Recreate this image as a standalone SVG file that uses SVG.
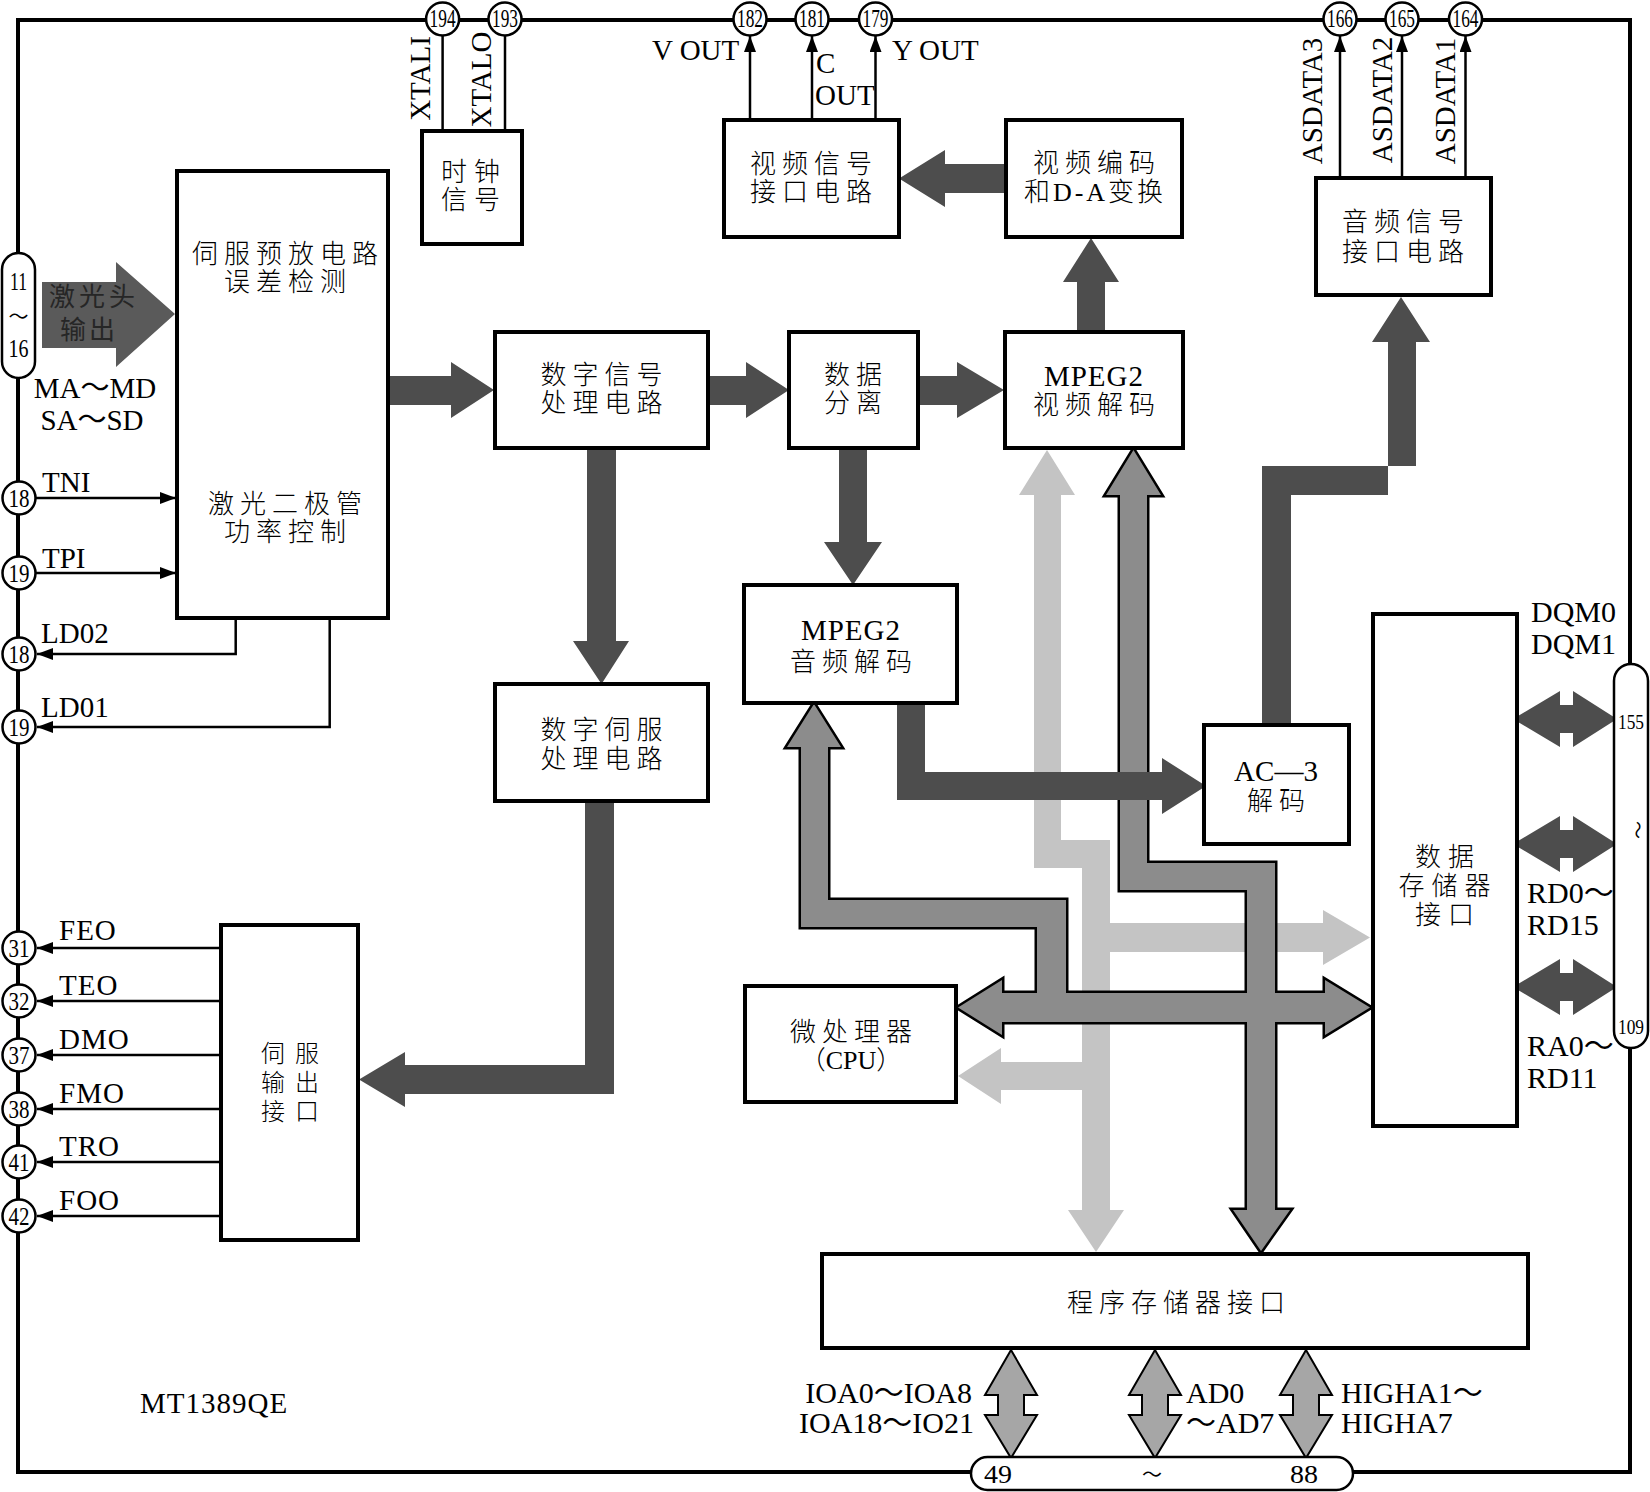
<svg xmlns="http://www.w3.org/2000/svg" xmlns:xlink="http://www.w3.org/1999/xlink" width="1650" height="1492" viewBox="0 0 1650 1492">
<style>
.t{font-family:"Liberation Serif","Noto Sans CJK SC",serif;fill:#000}
.cn{font-size:26px;letter-spacing:6px;text-anchor:middle;font-weight:300}
.lbl{font-size:29px}
.lb{font-size:30px}
.box{fill:#fff;stroke:#000;stroke-width:4}
.wire{fill:none;stroke:#000;stroke-width:2.5}
.dark{fill:#4d4d4d}
.light{fill:#c4c4c4}
.bo{fill:#8c8c8c;stroke:#000;stroke-width:5;stroke-linejoin:miter}
.bf{fill:#8c8c8c;stroke:none}
.pa{fill:#a6a6a6;stroke:#000;stroke-width:2}
.pin{fill:#fff;stroke:#000;stroke-width:2.5}
.pn{font-size:25px;text-anchor:middle}
</style>
<defs>
<marker id="ah" markerUnits="userSpaceOnUse" markerWidth="16" markerHeight="12" refX="16" refY="6" orient="auto"><path d="M0,0 L16,6 L0,12 z" fill="#000"/></marker>
<polygon id="busA" points="814,704 841,747 828,747 828,900 1066,900 1066,1000 1037,1000 1037,927 801,927 801,747 787,747"/>
<polygon id="busB" points="958,1007.5 1002,980 1002,993 1325,993 1325,980 1370,1007.5 1325,1035 1325,1022 1002,1022 1002,1035"/>
<polygon id="busC" points="1133.5,450 1161,495 1147,495 1147,863 1275,863 1275,1210 1290,1210 1261,1251 1233,1210 1247,1210 1247,890 1120,890 1120,495 1106,495"/>
</defs>
<rect width="1650" height="1492" fill="#fff"/>
<rect id="chip-border" x="18" y="20" width="1612" height="1452" fill="none" stroke="#000" stroke-width="4"/>

<g id="connectors">
  <!-- light gray bus -->
  <polygon class="light" points="1047,450 1075,495 1061,495 1061,840 1110,840 1110,1210 1124,1210 1096,1252 1068,1210 1082,1210 1082,868 1034,868 1034,495 1019,495"/>
  <polygon class="light" points="1110,923 1323,923 1323,910 1370,937.5 1323,965 1323,952 1110,952"/>
  <polygon class="light" points="1082,1062 1001,1062 1001,1048 958,1076 1001,1104 1001,1090 1082,1090"/>
  <!-- medium gray bus with outline -->
  <use xlink:href="#busA" class="bo"/>
  <use xlink:href="#busB" class="bo"/>
  <use xlink:href="#busC" class="bo"/>
  <use xlink:href="#busA" class="bf"/>
  <use xlink:href="#busB" class="bf"/>
  <use xlink:href="#busC" class="bf"/>
  <!-- dark arrows -->
  <polygon fill="#5a5a5a" points="42,282 116,282 116,262 175,314 116,367 116,348 42,348"/>
  <polygon class="dark" points="388,376 451,376 451,362 494,390 451,418 451,405 388,405"/>
  <polygon class="dark" points="708,376 746,376 746,362 789,390 746,418 746,405 708,405"/>
  <polygon class="dark" points="918,376 957,376 957,362 1004,390 957,418 957,405 918,405"/>
  <polygon class="dark" points="839,448 867,448 867,542 882,542 853,585 824,542 839,542"/>
  <polygon class="dark" points="587,448 616,448 616,641 629,641 601.5,684 573,641 587,641"/>
  <polygon class="dark" points="585,801 614,801 614,1094 405,1094 405,1107 359,1079.5 405,1052 405,1065 585,1065"/>
  <polygon class="dark" points="1006,164 945,164 945,150 899,178.5 945,207 945,193 1006,193"/>
  <polygon class="dark" points="1077,332 1105,332 1105,282 1119,282 1091,238 1063,282 1077,282"/>
  <polygon class="dark" points="1262,725 1262,466 1416,466 1416,342 1430,342 1401,297 1372,342 1388,342 1388,495 1291,495 1291,725"/>
  <polygon class="dark" points="897,703 925,703 925,772 1162,772 1162,758 1206,786 1162,814 1162,800 897,800"/>
  <polygon class="dark" points="1513,719 1560,691 1560,705 1573,705 1573,691 1617,719 1573,747 1573,733 1560,733 1560,747"/>
  <polygon class="dark" points="1513,844 1560,816 1560,830 1573,830 1573,816 1617,844 1573,872 1573,858 1560,858 1560,872"/>
  <polygon class="dark" points="1513,987 1560,959 1560,973 1573,973 1573,959 1617,987 1573,1015 1573,1001 1560,1001 1560,1015"/>
  <!-- program memory double arrows -->
  <polygon class="pa" points="1011,1350 1037,1395 1024,1395 1024,1415 1037,1415 1011,1458 985,1415 998,1415 998,1395 985,1395"/>
  <polygon class="pa" points="1155,1350 1181,1395 1168,1395 1168,1415 1181,1415 1155,1458 1129,1415 1142,1415 1142,1395 1129,1395"/>
  <polygon class="pa" points="1306,1350 1332,1395 1319,1395 1319,1415 1332,1415 1306,1458 1280,1415 1293,1415 1293,1395 1280,1395"/>
  <!-- thin signal wires -->
  <line class="wire" x1="442.6" y1="36" x2="442.6" y2="131"/>
  <line class="wire" x1="505" y1="36" x2="505" y2="131"/>
  <line class="wire" x1="750" y1="120" x2="750" y2="36" marker-end="url(#ah)"/>
  <line class="wire" x1="812" y1="120" x2="812" y2="36" marker-end="url(#ah)"/>
  <line class="wire" x1="875.5" y1="120" x2="875.5" y2="36" marker-end="url(#ah)"/>
  <line class="wire" x1="1340" y1="178" x2="1340" y2="36" marker-end="url(#ah)"/>
  <line class="wire" x1="1402" y1="178" x2="1402" y2="36" marker-end="url(#ah)"/>
  <line class="wire" x1="1465.5" y1="178" x2="1465.5" y2="36" marker-end="url(#ah)"/>
  <line class="wire" x1="36" y1="498" x2="176" y2="498" marker-end="url(#ah)"/>
  <line class="wire" x1="36" y1="573" x2="176" y2="573" marker-end="url(#ah)"/>
  <polyline class="wire" points="235.7,620 235.7,654 37,654" marker-end="url(#ah)"/>
  <polyline class="wire" points="329.7,620 329.7,727 37,727" marker-end="url(#ah)"/>
  <line class="wire" x1="221" y1="948" x2="37" y2="948" marker-end="url(#ah)"/>
  <line class="wire" x1="221" y1="1001" x2="37" y2="1001" marker-end="url(#ah)"/>
  <line class="wire" x1="221" y1="1055" x2="37" y2="1055" marker-end="url(#ah)"/>
  <line class="wire" x1="221" y1="1109" x2="37" y2="1109" marker-end="url(#ah)"/>
  <line class="wire" x1="221" y1="1162" x2="37" y2="1162" marker-end="url(#ah)"/>
  <line class="wire" x1="221" y1="1216" x2="37" y2="1216" marker-end="url(#ah)"/>
</g>

<g id="labels" class="t">
  <text class="lbl" transform="translate(430,78.5) rotate(-90)" text-anchor="middle">XTALI</text>
  <text class="lbl" transform="translate(491,79.5) rotate(-90)" text-anchor="middle">XTALO</text>
  <text class="lbl" x="652" y="60">V OUT</text>
  <text class="lbl" x="816" y="73">C</text>
  <text class="lbl" x="815" y="105">OUT</text>
  <text class="lbl" x="892" y="60">Y OUT</text>
  <text class="lbl" transform="translate(1322,101) rotate(-90)" text-anchor="middle">ASDATA3</text>
  <text class="lbl" transform="translate(1392,100) rotate(-90)" text-anchor="middle">ASDATA2</text>
  <text class="lbl" transform="translate(1455,101) rotate(-90)" text-anchor="middle">ASDATA1</text>
  <text class="lbl" x="95" y="398" text-anchor="middle">MA～MD</text>
  <text class="lbl" x="92" y="430" text-anchor="middle">SA～SD</text>
  <text class="lbl" x="42" y="492">TNI</text>
  <text class="lbl" x="42" y="568">TPI</text>
  <text class="lbl" x="41" y="643">LD02</text>
  <text class="lbl" x="41" y="717">LD01</text>
  <text class="lbl" x="59" y="940" letter-spacing="1">FEO</text>
  <text class="lbl" x="59" y="995" letter-spacing="1">TEO</text>
  <text class="lbl" x="59" y="1049" letter-spacing="1">DMO</text>
  <text class="lbl" x="59" y="1103" letter-spacing="1">FMO</text>
  <text class="lbl" x="59" y="1156" letter-spacing="1">TRO</text>
  <text class="lbl" x="59" y="1210" letter-spacing="1">FOO</text>
  <text class="lbl" x="140" y="1413" letter-spacing="1">MT1389QE</text>
  <text class="lb" x="1531" y="622">DQM0</text>
  <text class="lb" x="1531" y="654">DQM1</text>
  <text class="lb" x="1527" y="903">RD0～</text>
  <text class="lb" x="1527" y="935">RD15</text>
  <text class="lb" x="1527" y="1056">RA0～</text>
  <text class="lb" x="1527" y="1088">RD11</text>
  <text class="lb" x="972" y="1403" text-anchor="end">IOA0～IOA8</text>
  <text class="lb" x="974" y="1433" text-anchor="end">IOA18～IO21</text>
  <text class="lb" x="1186" y="1403">AD0</text>
  <text class="lb" x="1186" y="1433">～AD7</text>
  <text class="lb" x="1341" y="1403">HIGHA1～</text>
  <text class="lb" x="1341" y="1433">HIGHA7</text>
</g>

<g id="pins" class="t">
  <g id="pin-194"><circle class="pin" cx="442.6" cy="19" r="16.5"/><text class="pn" x="442.6" y="27" textLength="26" lengthAdjust="spacingAndGlyphs">194</text></g>
  <g id="pin-193"><circle class="pin" cx="505" cy="19" r="16.5"/><text class="pn" x="505" y="27" textLength="26" lengthAdjust="spacingAndGlyphs">193</text></g>
  <g id="pin-182"><circle class="pin" cx="750" cy="19" r="16.5"/><text class="pn" x="750" y="27" textLength="26" lengthAdjust="spacingAndGlyphs">182</text></g>
  <g id="pin-181"><circle class="pin" cx="812" cy="19" r="16.5"/><text class="pn" x="812" y="27" textLength="26" lengthAdjust="spacingAndGlyphs">181</text></g>
  <g id="pin-179"><circle class="pin" cx="875.5" cy="19" r="16.5"/><text class="pn" x="875.5" y="27" textLength="26" lengthAdjust="spacingAndGlyphs">179</text></g>
  <g id="pin-166"><circle class="pin" cx="1340" cy="19" r="16.5"/><text class="pn" x="1340" y="27" textLength="26" lengthAdjust="spacingAndGlyphs">166</text></g>
  <g id="pin-165"><circle class="pin" cx="1402" cy="19" r="16.5"/><text class="pn" x="1402" y="27" textLength="26" lengthAdjust="spacingAndGlyphs">165</text></g>
  <g id="pin-164"><circle class="pin" cx="1465.5" cy="19" r="16.5"/><text class="pn" x="1465.5" y="27" textLength="26" lengthAdjust="spacingAndGlyphs">164</text></g>
  <g id="pin-11-16"><rect class="pin" x="2" y="253" width="33" height="125" rx="16.5"/>
    <text class="pn" x="18.5" y="290" textLength="17" lengthAdjust="spacingAndGlyphs">11</text>
    <text class="pn" x="18.5" y="324" style="font-size:20px">～</text>
    <text class="pn" x="18.5" y="357" textLength="20" lengthAdjust="spacingAndGlyphs">16</text></g>
  <g id="pin-18a"><circle class="pin" cx="19" cy="498" r="16.5"/><text class="pn" x="19" y="507" textLength="21" lengthAdjust="spacingAndGlyphs">18</text></g>
  <g id="pin-19a"><circle class="pin" cx="19" cy="573" r="16.5"/><text class="pn" x="19" y="582" textLength="21" lengthAdjust="spacingAndGlyphs">19</text></g>
  <g id="pin-18b"><circle class="pin" cx="19" cy="654" r="16.5"/><text class="pn" x="19" y="663" textLength="21" lengthAdjust="spacingAndGlyphs">18</text></g>
  <g id="pin-19b"><circle class="pin" cx="19" cy="727" r="16.5"/><text class="pn" x="19" y="736" textLength="21" lengthAdjust="spacingAndGlyphs">19</text></g>
  <g id="pin-31"><circle class="pin" cx="19" cy="948" r="16.5"/><text class="pn" x="19" y="957" textLength="21" lengthAdjust="spacingAndGlyphs">31</text></g>
  <g id="pin-32"><circle class="pin" cx="19" cy="1001" r="16.5"/><text class="pn" x="19" y="1010" textLength="21" lengthAdjust="spacingAndGlyphs">32</text></g>
  <g id="pin-37"><circle class="pin" cx="19" cy="1055" r="16.5"/><text class="pn" x="19" y="1064" textLength="21" lengthAdjust="spacingAndGlyphs">37</text></g>
  <g id="pin-38"><circle class="pin" cx="19" cy="1109" r="16.5"/><text class="pn" x="19" y="1118" textLength="21" lengthAdjust="spacingAndGlyphs">38</text></g>
  <g id="pin-41"><circle class="pin" cx="19" cy="1162" r="16.5"/><text class="pn" x="19" y="1171" textLength="21" lengthAdjust="spacingAndGlyphs">41</text></g>
  <g id="pin-42"><circle class="pin" cx="19" cy="1216" r="16.5"/><text class="pn" x="19" y="1225" textLength="21" lengthAdjust="spacingAndGlyphs">42</text></g>
  <g id="pin-155-109"><rect class="pin" x="1614" y="664" width="34" height="384" rx="17"/>
    <text class="pn" x="1631" y="729" style="font-size:22px" textLength="26" lengthAdjust="spacingAndGlyphs">155</text>
    <text class="pn" transform="translate(1631,830) rotate(90)" style="font-size:18px">～</text>
    <text class="pn" x="1631" y="1034" style="font-size:22px" textLength="26" lengthAdjust="spacingAndGlyphs">109</text></g>
  <g id="pin-49-88"><rect class="pin" x="971" y="1457" width="382" height="33" rx="16.5"/>
    <text class="pn" x="998" y="1483" textLength="28" lengthAdjust="spacingAndGlyphs">49</text>
    <text class="pn" x="1152" y="1482" style="font-size:20px">～</text>
    <text class="pn" x="1304" y="1483" textLength="28" lengthAdjust="spacingAndGlyphs">88</text></g>
</g>

<g id="laser-label" class="t"><text class="cn" x="94" y="306" style="letter-spacing:4px;font-weight:400;fill:#262626">激光头</text><text class="cn" x="89" y="339" style="letter-spacing:3px;font-weight:400;fill:#262626">输出</text></g>

<g id="node-clock" class="t"><rect class="box" x="422" y="131" width="100" height="113"/>
  <text class="cn" x="474" y="181" style="letter-spacing:7px">时钟</text><text class="cn" x="474" y="209" style="letter-spacing:7px">信号</text></g>
<g id="node-servo-preamp" class="t"><rect class="box" x="177" y="171" width="211" height="447"/>
  <text class="cn" x="288" y="263">伺服预放电路</text><text class="cn" x="288" y="291">误差检测</text>
  <text class="cn" x="288" y="513">激光二极管</text><text class="cn" x="288" y="541">功率控制</text></g>
<g id="node-dsp" class="t"><rect class="box" x="495" y="332" width="213" height="116"/>
  <text class="cn" x="604.5" y="384">数字信号</text><text class="cn" x="604.5" y="412">处理电路</text></g>
<g id="node-demux" class="t"><rect class="box" x="789" y="332" width="129" height="116"/>
  <text class="cn" x="856" y="384">数据</text><text class="cn" x="856" y="412">分离</text></g>
<g id="node-mpeg2-video" class="t"><rect class="box" x="1005" y="332" width="178" height="116"/>
  <text class="lbl" x="1094" y="386" text-anchor="middle" letter-spacing="1">MPEG2</text><text class="cn" x="1097" y="414">视频解码</text></g>
<g id="node-video-if" class="t"><rect class="box" x="724" y="120" width="175" height="117"/>
  <text class="cn" x="814" y="173">视频信号</text><text class="cn" x="814" y="201">接口电路</text></g>
<g id="node-video-enc" class="t"><rect class="box" x="1006" y="120" width="176" height="117"/>
  <text class="cn" x="1097" y="172">视频编码</text><text class="cn" x="1095" y="201" style="letter-spacing:3px">和D-A变换</text></g>
<g id="node-audio-if" class="t"><rect class="box" x="1316" y="178" width="175" height="117"/>
  <text class="cn" x="1406" y="231">音频信号</text><text class="cn" x="1406" y="261">接口电路</text></g>
<g id="node-mpeg2-audio" class="t"><rect class="box" x="744" y="585" width="213" height="118"/>
  <text class="lbl" x="851" y="640" text-anchor="middle" letter-spacing="1">MPEG2</text><text class="cn" x="854" y="671">音频解码</text></g>
<g id="node-ac3" class="t"><rect class="box" x="1204" y="725" width="145" height="119"/>
  <text class="lbl" x="1276" y="781" text-anchor="middle">AC—3</text><text class="cn" x="1279" y="810">解码</text></g>
<g id="node-digital-servo" class="t"><rect class="box" x="495" y="684" width="213" height="117"/>
  <text class="cn" x="604.5" y="739">数字伺服</text><text class="cn" x="604.5" y="768">处理电路</text></g>
<g id="node-servo-out" class="t"><rect class="box" x="221" y="925" width="137" height="315"/>
  <text class="cn" x="295" y="1062" style="font-size:24px;letter-spacing:10px">伺服</text><text class="cn" x="295" y="1091" style="font-size:24px;letter-spacing:10px">输出</text><text class="cn" x="295" y="1120" style="font-size:24px;letter-spacing:10px">接口</text></g>
<g id="node-cpu" class="t"><rect class="box" x="745" y="986" width="211" height="116"/>
  <text class="cn" x="854" y="1041">微处理器</text><text class="cn" x="851" y="1069" style="letter-spacing:0px">（CPU）</text></g>
<g id="node-data-mem" class="t"><rect class="box" x="1373" y="614" width="144" height="512"/>
  <text class="cn" x="1448" y="866" style="letter-spacing:7px">数据</text><text class="cn" x="1448" y="895" style="letter-spacing:7px">存储器</text><text class="cn" x="1448" y="924" style="letter-spacing:7px">接口</text></g>
<g id="node-prog-mem" class="t"><rect class="box" x="822" y="1254" width="706" height="94"/>
  <text class="cn" x="1179" y="1312">程序存储器接口</text></g>
</svg>
